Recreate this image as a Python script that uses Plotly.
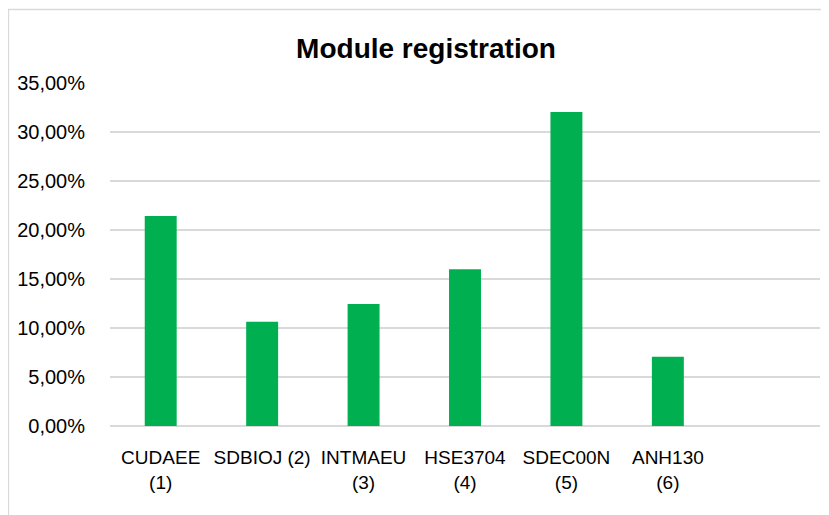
import plotly.graph_objects as go

# Data
modules = ["CUDAEE<br>(1)", "SDBIOJ (2)", "INTMAEU<br>(3)", "HSE3704<br>(4)", "SDEC00N<br>(5)", "ANH130<br>(6)"]
shares = [0.2143, 0.1065, 0.1245, 0.1600, 0.3205, 0.0707]
y_ticks = [0, 0.05, 0.10, 0.15, 0.20, 0.25, 0.30, 0.35]

font_family = "Liberation Sans, Arial"
grid_color = "#d9d9d9"

positions = list(range(len(modules)))

fig = go.Figure(
    go.Bar(
        x=positions, y=shares,
        marker=dict(color="#00b050", line=dict(width=0)),
        hovertemplate="%{y:.2%}<extra></extra>"
    )
)

# page body has an 8px margin, so the figure is sized/offset to compensate
fig.update_layout(
    width=821, height=507,
    margin={'l': 102, 'r': 9, 't': 75, 'b': 89, 'autoexpand': False},
    paper_bgcolor="white", plot_bgcolor="white",
    separators=",.",
    bargap=0.685,
    showlegend=False,
    font=dict(family=font_family, size=19, color="#000000"),
    title=dict(
        text="<b>Module registration</b>",
        x=(426 - 8) / 821, xanchor="center",
        y=1 - (48 - 8) / 507, yanchor="middle",
        font=dict(family=font_family, size=28, color="#000000")
    ),
    xaxis=dict(
        range=[-0.5, 6.5], automargin=False,
        tickmode="array", tickvals=positions, ticktext=modules,
        showgrid=False, zeroline=False, showline=False,
        ticks="outside", ticklen=14, tickcolor="rgba(0,0,0,0)",
        tickfont=dict(size=19)
    ),
    yaxis=dict(
        range=[0, 0.35], automargin=False,
        tickmode="array", tickvals=y_ticks, tickformat=".2%",
        showgrid=True, gridcolor=grid_color, gridwidth=1.6,
        zeroline=True, zerolinecolor=grid_color, zerolinewidth=1.6,
        showline=False,
        ticks="outside", ticklen=20, tickcolor="rgba(0,0,0,0)",
        tickfont=dict(size=20)
    ),
    shapes=[
        # outer chart border like the Excel chart area
        dict(type="rect", xref="paper", yref="paper",
             x0=(8.5 - 110) / 710, x1=(840 - 110) / 710,
             y0=(426 - 530) / 343, y1=(426 - 9.5) / 343,
             line=dict(color="#d9d9d9", width=1.3), fillcolor="rgba(0,0,0,0)",
             layer="below")
    ]
)

fig.write_html("out.html")
